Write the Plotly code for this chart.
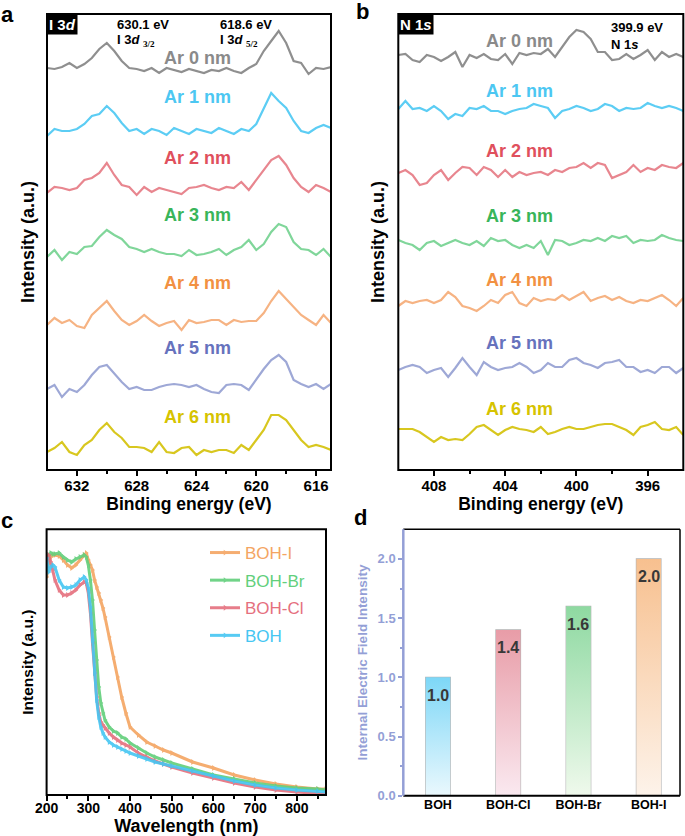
import plotly.graph_objects as go

W, H = 685, 836
FONT = "Liberation Sans, Arial, sans-serif"

# ---------------- panel a : I 3d XPS ----------------
be_i3d = [634.0, 633.5, 633.0, 632.5, 632.0, 631.5, 631.0, 630.5, 630.0, 629.5,
          629.0, 628.5, 628.0, 627.5, 627.0, 626.5, 626.0, 625.5, 625.0, 624.5,
          624.0, 623.5, 623.0, 622.5, 622.0, 621.5, 621.0, 620.5, 620.0, 619.5,
          619.0, 618.5, 618.0, 617.5, 617.0, 616.5, 616.0, 615.5, 615.0]
i3d_ar0 = [3, 2, 4, 8, 3, 7, 13, 22, 28, 20, 10, 3, 2, 0, 3, -2, 3, 1, -1, 2,
           0, -2, 1, 0, 3, 0, -2, 3, 7, 20, 30, 40, 28, 10, 8, -3, 3, 2, 4]
i3d_ar1 = [-5, 2, 0, 0, 2, 7, 15, 17, 25, 18, 8, 0, 2, -3, 2, 0, -4, 3, 0, -3,
           2, 0, -2, 3, 0, -3, 2, 0, 7, 22, 38, 30, 23, 10, 0, -2, 3, 6, 3]
i3d_ar2 = [-3, 3, 2, 0, 2, 10, 12, 17, 27, 15, 5, 3, -5, 3, -2, 2, 0, -2, -4, 2,
           3, 5, 2, 0, 3, 2, 8, 0, 10, 20, 30, 34, 25, 12, 3, -2, 5, 2, -2]
i3d_ar3 = [-5, 2, -8, 0, -2, 5, 6, 15, 22, 17, 13, 5, 3, 0, 3, 0, -2, -2, -4, 2,
           -3, -2, 0, 3, -3, 2, 5, 12, 2, 8, 20, 28, 25, 10, 3, 2, -3, 3, -5]
i3d_ar4 = [-2, 5, 0, 3, -3, -5, 8, 15, 22, 12, 3, -2, 2, 8, 2, -3, 0, 2, -7, 3,
           0, 1, 3, 3, -2, 3, 1, 2, 2, 10, 22, 32, 24, 15, 8, 3, -2, 8, 0]
i3d_ar5 = [-2, 2, -10, -2, -5, 2, 12, 20, 22, 13, 5, -2, 0, -3, -3, 0, 2, 3, 2, 0,
           2, -2, -5, -6, 2, 3, 2, -3, 8, 18, 27, 32, 25, 7, 3, 0, 3, -2, 3]
i3d_ar6 = [-2, 2, 8, -2, -5, 5, 10, 20, 27, 18, 12, 3, 3, 2, -2, 8, -2, -3, 2, 3,
           -5, 0, -2, 0, 0, -3, 5, 0, 10, 20, 35, 35, 30, 20, 10, 3, 5, 3, 0]

# ---------------- panel b : N 1s XPS ----------------
be_n1s = [410.0, 409.6, 409.2, 408.8, 408.4, 408.0, 407.6, 407.2, 406.8, 406.4,
          406.0, 405.6, 405.2, 404.8, 404.4, 404.0, 403.6, 403.2, 402.8, 402.4,
          402.0, 401.6, 401.2, 400.8, 400.4, 400.0, 399.6, 399.2, 398.8, 398.4,
          398.0, 397.6, 397.2, 396.8, 396.4, 396.0, 395.6, 395.2, 394.8, 394.4, 394.0]
n1s_ar0 = [2, 3, -3, -5, 2, 0, -4, 0, 5, -10, 2, -1, 3, -2, -3, 3, -7, 4, 2, 4,
           3, 8, 0, 10, 20, 27, 25, 18, 5, 5, -3, -2, 3, -2, 2, 7, -3, 5, 0, 3, 0]
n1s_ar1 = [2, 10, 2, 3, 0, 5, 0, -8, -3, -5, 3, 2, 5, 0, 0, -3, 0, 2, 3, 7,
           5, 3, -7, 0, 2, 5, 3, 0, 2, 7, 5, 0, 3, 2, 3, 8, 5, 3, 5, 3, 0]
n1s_ar2 = [2, 5, 0, -10, -8, 0, 5, -5, 2, 8, 7, 0, 8, 5, -2, 5, -2, 3, 0, 2,
           3, 0, 5, 3, 7, 8, 12, 7, 12, 10, -3, 0, 3, 10, 3, 7, 5, 10, 8, 7, 12]
n1s_ar3 = [3, 0, -2, -7, 0, 2, -3, 0, 3, 0, -2, 2, -3, 5, 2, 3, -2, -5, -2, -5,
           2, -12, 3, 2, -2, 0, 3, 2, 5, 2, 7, 5, 7, 0, 3, 2, 3, 8, 5, 3, 2]
n1s_ar4 = [-3, 2, 0, 2, 3, 0, 3, 11, 6, -3, -5, -8, -3, 3, 0, 8, 11, 0, -3, 5,
           2, 4, 3, 8, 3, 7, 11, 2, 5, 7, 3, 6, 2, 0, 3, 2, 5, 8, 3, -3, 5]
n1s_ar5 = [0, 3, 5, 3, -3, 0, 2, -7, 2, 12, 3, -5, 8, 3, 0, 2, 3, 7, 3, -3,
           0, 7, 3, 3, 10, 12, 7, 5, 2, 7, 8, 10, 3, 3, -2, 0, -3, 3, 3, -3, 2]
n1s_ar6 = [3, 3, 3, 0, -5, -10, -5, -8, -7, -8, -2, 5, 7, 2, -3, 2, 5, 3, 2, 0,
           5, -2, 0, 3, 5, 3, 3, 5, 7, 8, 8, 5, 2, -3, 5, 7, 10, 3, 2, 5, -3]

depth_labels = ["Ar 0 nm", "Ar 1 nm", "Ar 2 nm", "Ar 3 nm", "Ar 4 nm", "Ar 5 nm", "Ar 6 nm"]

# ---------------- panel c : UV-vis DRS ----------------
wavelength = [200, 205, 210, 215, 220, 230, 240, 250, 260, 270, 280, 290, 295, 300,
              305, 310, 315, 320, 325, 330, 335, 340, 350, 360, 370, 380, 390, 400,
              420, 440, 460, 480, 500, 550, 600, 650, 700, 750, 800, 850, 870]
abs_boh_i = [218, 232, 238, 240, 240, 239, 235, 230, 227, 230, 235, 240, 242, 235,
             230, 225, 215, 208, 202, 195, 187, 178, 158, 138, 118, 98, 82, 68,
             60, 53, 49, 45, 42, 33, 27, 20, 15, 11, 8, 6, 6]
abs_boh_br = [228, 240, 242, 241, 241, 242, 238, 235, 233, 236, 238, 240, 238, 230,
              215, 195, 165, 135, 108, 92, 82, 75, 68, 64, 62, 58, 56, 52,
              47, 42, 38, 35, 32, 26, 20, 16, 12, 9, 7, 6, 5]
abs_boh_cl = [228, 240, 233, 225, 215, 205, 200, 200, 202, 205, 210, 213, 212, 202,
              182, 152, 122, 98, 82, 73, 70, 67, 62, 58, 55, 52, 50, 48,
              42, 38, 34, 31, 28, 22, 17, 12, 8, 5, 3, 2, 1]
abs_boh = [237, 223, 228, 230, 228, 215, 208, 207, 208, 210, 215, 218, 215, 207,
           188, 155, 122, 95, 78, 68, 62, 58, 53, 50, 48, 46, 44, 42,
           39, 36, 33, 31, 29, 24, 19, 14, 10, 7, 5, 4, 3]

# ---------------- panel d : internal electric field ----------------
samples = ["BOH", "BOH-Cl", "BOH-Br", "BOH-I"]
iefi = [1.0, 1.4, 1.6, 2.0]

# ---------------- styles ----------------
line_cols = ["#8f8f8f", "#5ccdf4", "#e8868f", "#80d69a", "#f6b383", "#9ea8d6", "#d8c71f"]
label_cols = ["#8a8a8a", "#4cc7f2", "#e0505d", "#39b55a", "#f29142", "#6672bd", "#d6c300"]
a_offsets = [399, 339, 280, 218, 147, 83, 20]
a_label_y = [412, 373, 312, 255, 187, 122, 53]
b_offsets = [413, 359, 295, 227, 167, 100, 38]
b_label_y = [429, 379, 319, 254, 190, 127, 61]

uv_cols = {"BOH": "#45c6f2", "BOH-Cl": "#e5707e", "BOH-Br": "#62cf7c", "BOH-I": "#f4a562"}
bar_top = ["#7dd7f7", "#e89ca7", "#8ed9a1", "#f7c08f"]
bar_bot = ["#eaf8fd", "#fae9f0", "#eff9ec", "#fdf3ea"]
lav = "#949fd6"


def px_x(p):
    return p / W


def px_y(p):
    return 1 - p / H


fig = go.Figure()

a_series = [i3d_ar0, i3d_ar1, i3d_ar2, i3d_ar3, i3d_ar4, i3d_ar5, i3d_ar6]
b_series = [n1s_ar0, n1s_ar1, n1s_ar2, n1s_ar3, n1s_ar4, n1s_ar5, n1s_ar6]

for k, s in enumerate(a_series):
    fig.add_trace(go.Scatter(x=be_i3d, y=[v + a_offsets[k] for v in s], mode="lines",
                             line=dict(color=line_cols[k], width=2.2), showlegend=False,
                             xaxis="x", yaxis="y"))
for k, s in enumerate(b_series):
    fig.add_trace(go.Scatter(x=be_n1s, y=[v + b_offsets[k] for v in s], mode="lines",
                             line=dict(color=line_cols[k], width=2.2), showlegend=False,
                             xaxis="x2", yaxis="y2"))

uv = [("BOH-I", abs_boh_i), ("BOH-Br", abs_boh_br), ("BOH-Cl", abs_boh_cl), ("BOH", abs_boh)]
for name, s in uv:
    c = uv_cols[name]
    fig.add_trace(go.Scatter(x=wavelength, y=s, mode="lines+markers",
                             line=dict(color=c, width=3),
                             marker=dict(symbol="triangle-right", size=5, color=c),
                             opacity=0.9, legendgroup=name,
                             name=f'<span style="color:{c}">{name}</span>',
                             xaxis="x3", yaxis="y3"))

# gradient bars
bw = 0.35
for i, v in enumerate(iefi):
    fig.add_trace(go.Scatter(x=[i - bw / 2, i + bw / 2, i + bw / 2, i - bw / 2, i - bw / 2],
                             y=[0, 0, v, v, 0], mode="lines", fill="toself",
                             fillgradient=dict(type="vertical", start=0, stop=v,
                                               colorscale=[[0, bar_bot[i]], [1, bar_top[i]]]),
                             line=dict(width=0), showlegend=False, hoverinfo="skip",
                             xaxis="x4", yaxis="y4"))
fig.add_trace(go.Bar(x=list(range(len(samples))), y=iefi, width=bw,
                     marker=dict(color="rgba(0,0,0,0)", line=dict(color="#b3b3b3", width=1.2)),
                     showlegend=False, xaxis="x4", yaxis="y4"))

ann = []
for k, lab in enumerate(depth_labels):
    ann.append(dict(x=623.9, y=a_label_y[k], xref="x", yref="y", text=lab, showarrow=False,
                    xanchor="center", yanchor="middle",
                    font=dict(family=FONT, size=18, color=label_cols[k], weight="bold")))
    ann.append(dict(x=403.2, y=b_label_y[k], xref="x2", yref="y2", text=lab, showarrow=False,
                    xanchor="center", yanchor="middle",
                    font=dict(family=FONT, size=18, color=label_cols[k], weight="bold")))
for i, v in enumerate(iefi):
    ann.append(dict(x=i, y=v, xref="x4", yref="y4", yshift=-18, text=f"{v:.1f}", showarrow=False,
                    xanchor="center", yanchor="middle",
                    font=dict(family=FONT, size=16, color="#383838", weight="bold")))

# corner tags
ann.append(dict(x=0, y=1, xref="x domain", yref="y domain", xanchor="left", yanchor="top",
                text="I 3<i>d</i>", showarrow=False, bgcolor="black", borderpad=1,
                font=dict(family=FONT, size=15, color="white", weight="bold")))
ann.append(dict(x=0, y=1, xref="x2 domain", yref="y2 domain", xanchor="left", yanchor="top",
                text="N 1<i>s</i>", showarrow=False, bgcolor="black", borderpad=1,
                font=dict(family=FONT, size=15, color="white", weight="bold")))
# peak notes (two separate lines each)
SERIF = "font-family:'Liberation Serif',serif"
notes = [(115, 25, "630.1 eV"),
         (115, 41, f"I 3<i>d</i> <sub><span style=\"{SERIF}\">3/2</span></sub>"),
         (218, 25, "618.6 eV"),
         (218, 41, f"I 3<i>d</i> <sub><span style=\"{SERIF}\">5/2</span></sub>"),
         (609, 28, "399.9 eV"),
         (609, 45, "N 1<i>s</i>")]
for xx, yy, t in notes:
    ann.append(dict(x=px_x(xx), y=px_y(yy), xref="paper", yref="paper", xanchor="left",
                    yanchor="middle", align="left", text=t, showarrow=False,
                    font=dict(family=FONT, size=13, color="black", weight="bold")))
# panel letters
for t, xx, yy in [("a", 7, 14), ("b", 362, 12), ("c", 7, 520), ("d", 361, 517)]:
    ann.append(dict(x=px_x(xx), y=px_y(yy), xref="paper", yref="paper", text=t, showarrow=False,
                    xanchor="center", yanchor="middle",
                    font=dict(family=FONT, size=22, color="black", weight="bold")))

tickf = dict(family=FONT, size=15, color="black", weight="bold")
titf = dict(family=FONT, size=17.5, color="black", weight="bold")

frame = dict(showline=False, showgrid=False, zeroline=False, automargin=False)


def box(xr, yr):
    return dict(type="rect", xref=xr + " domain", yref=yr + " domain", x0=0, x1=1, y0=0, y1=1,
                line=dict(color="black", width=2), fillcolor="rgba(0,0,0,0)", layer="above")


shapes = [box("x", "y"), box("x2", "y2"), box("x3", "y3"),
          dict(type="line", xref="x4 domain", yref="y4 domain", x0=0, x1=1, y0=0, y1=0,
               line=dict(color="black", width=2)),
          dict(type="line", xref="x4 domain", yref="y4 domain", x0=0, x1=1, y0=1, y1=1,
               line=dict(color="black", width=1.5)),
          dict(type="line", xref="x4 domain", yref="y4 domain", x0=1, x1=1, y0=0, y1=1,
               line=dict(color="black", width=1.5)),
          dict(type="line", xref="x4 domain", yref="y4 domain", x0=0, x1=0, y0=0, y1=1,
               line=dict(color=lav, width=2.5))]

fig.update_layout(
    template="none",
    width=W, height=H, margin=dict(l=0, r=0, t=0, b=0, autoexpand=False),
    paper_bgcolor="white", plot_bgcolor="white",
    font=dict(family=FONT),
    xaxis=dict(domain=[px_x(47), px_x(331)], range=[634, 615], anchor="y",
               tickvals=[632, 628, 624, 620, 616], ticks="outside", ticklen=5, tickwidth=2,
               tickcolor="black", tickfont=tickf, ticklabelstandoff=-3,
               minor=dict(tickvals=[630, 626, 622, 618], ticks="outside", ticklen=3,
                          tickwidth=2, tickcolor="black"),
               title=dict(text="Binding energy (eV)", font=titf, standoff=3), **frame),
    yaxis=dict(domain=[px_y(470), px_y(14)], range=[0, 456], anchor="x",
               showticklabels=False, ticks="",
               title=dict(text="Intensity (a.u.)", font=dict(family=FONT, size=18, color="black",
                                                             weight="bold"), standoff=6), **frame),
    xaxis2=dict(domain=[px_x(398.3), px_x(683.3)], range=[410, 394], anchor="y2",
                tickvals=[408, 404, 400, 396], ticks="outside", ticklen=5, tickwidth=2,
                tickcolor="black", tickfont=tickf, ticklabelstandoff=-3,
                minor=dict(tickvals=[406, 402, 398], ticks="outside", ticklen=3,
                           tickwidth=2, tickcolor="black"),
                title=dict(text="Binding energy (eV)", font=titf, standoff=3), **frame),
    yaxis2=dict(domain=[px_y(470), px_y(14)], range=[0, 456], anchor="x2",
                showticklabels=False, ticks="",
                title=dict(text="Intensity (a.u.)", font=dict(family=FONT, size=18, color="black",
                                                              weight="bold"), standoff=8), **frame),
    xaxis3=dict(domain=[px_x(46.6), px_x(326)], range=[200, 870], anchor="y3",
                tickvals=[200, 300, 400, 500, 600, 700, 800], ticks="outside", ticklen=5,
                tickwidth=2, tickcolor="black", tickfont=dict(family=FONT, size=14,
                                                              color="black", weight="bold"),
                ticklabelstandoff=-5,
                minor=dict(tickvals=[250, 350, 450, 550, 650, 750, 850], ticks="outside",
                           ticklen=3, tickwidth=2, tickcolor="black"),
                title=dict(text="Wavelength (nm)", font=dict(family=FONT, size=18, color="black",
                                                             weight="bold"), standoff=4), **frame),
    yaxis3=dict(domain=[px_y(795), px_y(529.3)], range=[0, 265.7], anchor="x3",
                showticklabels=False, ticks="",
                title=dict(text="Intensity (a.u.)", font=dict(family=FONT, size=15.5, color="black",
                                                              weight="bold"), standoff=8), **frame),
    xaxis4=dict(domain=[px_x(403.3), px_x(680)], range=[-0.494, 3.446], anchor="y4",
                tickvals=list(range(len(samples))), ticktext=samples, ticks="",
                tickfont=dict(family=FONT, size=12.5, color="black", weight="bold"), **frame),
    yaxis4=dict(domain=[px_y(795.7), px_y(529.3)], range=[0, 2.25], anchor="x4",
                tickvals=[0, 0.5, 1.0, 1.5, 2.0], ticktext=["0.0", "0.5", "1.0", "1.5", "2.0"],
                ticks="outside", ticklen=4, tickwidth=1.5, tickcolor=lav,
                minor=dict(tickvals=[0.25, 0.75, 1.25, 1.75], ticks="outside", ticklen=2,
                           tickwidth=1.5, tickcolor=lav),
                tickfont=dict(family=FONT, size=13, color=lav, weight="bold"),
                title=dict(text="Internal Electric Field Intensity",
                           font=dict(family=FONT, size=13.5, color=lav, weight="bold"), standoff=6),
                **frame),
    legend=dict(x=px_x(205), y=px_y(535), xanchor="left", yanchor="top",
                traceorder="grouped", bgcolor="rgba(0,0,0,0)",
                font=dict(family=FONT, size=17), tracegroupgap=2.5),
    annotations=ann,
    shapes=shapes,
)

fig.write_html("out.html", config={"displayModeBar": False},
               post_script="document.body.style.margin='0px';")
